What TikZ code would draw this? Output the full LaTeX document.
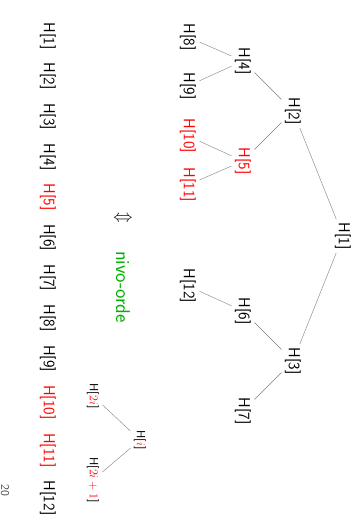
\documentclass[tikz,border=0pt]{standalone}
\usepackage{xcolor}
\newcommand{\hgap}{\hspace{0.84em}}
\begin{document}
\begin{tikzpicture}[x=1pt, y=1pt, rotate=-90, transform shape,
    font=\sffamily\fontsize{16}{19}\selectfont,
    edge/.style={gray, thin},
    hot/.style={text=red},
    tiny/.style={font=\sffamily\fontsize{12}{14}\selectfont}]
    \useasboundingbox (0, 0) rectangle (530, -363);

    % the heap as a tree
    \node (h1) at (236, -20) {H[1]};
    \node (h2) at (111, -70) {H[2]};
    \node (h3) at (361, -70) {H[3]};
    \node (h4) at (61, -120) {H[4]};
    \node[hot] (h5) at (161, -120) {H[5]};
    \node (h6) at (311, -120) {H[6]};
    \node (h7) at (411, -120) {H[7]};
    \node (h8) at (37, -175) {H[8]};
    \node (h9) at (86, -175) {H[9]};
    \node[hot] (h10) at (136, -175) {H[10]};
    \node[hot] (h11) at (185, -175) {H[11]};
    \node (h12) at (286, -175) {H[12]};

    \draw[edge] (h1) -- (h2);
    \draw[edge] (h1) -- (h3);
    \draw[edge] (h2) -- (h4);
    \draw[edge] (h2) -- (h5);
    \draw[edge] (h3) -- (h6);
    \draw[edge] (h3) -- (h7);
    \draw[edge] (h4) -- (h8);
    \draw[edge] (h4) -- (h9);
    \draw[edge] (h5) -- (h10);
    \draw[edge] (h5) -- (h11);
    \draw[edge] (h6) -- (h12);

    \node (equiv) at (218, -240) {$\Updownarrow$};
    \node[text=green!70!black, font=\sffamily\fontsize{20}{24}\selectfont] (order) at (287, -240) {nivo-orde};

    % parent and children
    \node[tiny] (hi) at (440, -223) {H[\textcolor{red}{$i$}]};
    \node[tiny] (hl) at (396, -270) {H[\textcolor{red}{$2i$}]};
    \node[tiny] (hr) at (480, -270) {H[\textcolor{red}{$2i+1$}]};
    \draw[edge] (hi) -- (hl);
    \draw[edge] (hi) -- (hr);

    % the heap as an array
    \node (row) at (269, -315) {H[1]\hgap H[2]\hgap H[3]\hgap H[4]\hgap
        \textcolor{red}{H[5]}\hgap H[6]\hgap H[7]\hgap H[8]\hgap H[9]\hgap
        \textcolor{red}{H[10]}\hgap \textcolor{red}{H[11]}\hgap H[12]};

    \node[font=\sffamily\fontsize{12}{14}\selectfont, text=black!70] (page) at (490, -358) {20};
\end{tikzpicture}
\end{document}
